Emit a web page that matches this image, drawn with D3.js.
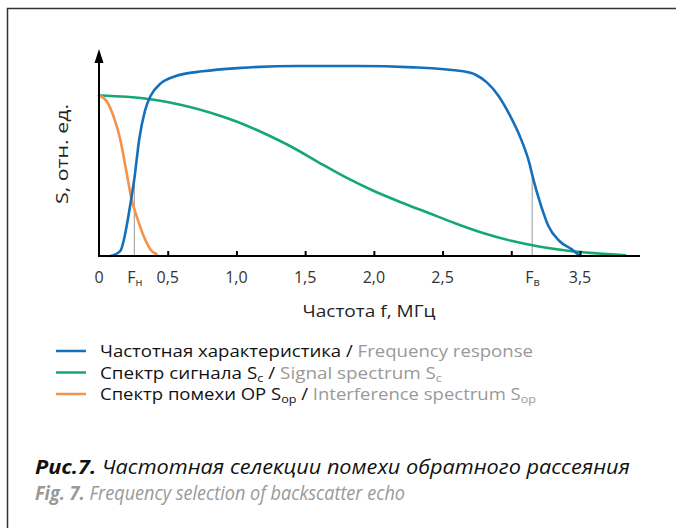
<!DOCTYPE html>
<html><head><meta charset="utf-8">
<script src="https://cdn.jsdelivr.net/npm/d3@7"></script>
<style>
body{margin:0;background:#fff;}
svg{display:block;}
</style></head>
<body>
<svg id="c" width="676" height="528"></svg>
<script>
// ---- data ----
const responseF = [0.084,0.154,0.23,0.257,0.293,0.335,0.377,0.447,0.559,0.754,1.034,1.45,1.87,2.29,2.65,2.74,2.82,2.905,2.99,3.06,3.13,3.16,3.21,3.27,3.35,3.44,3.5];
const responseS = [0.0,0.026,0.28,0.405,0.616,0.766,0.845,0.907,0.947,0.972,0.99,1.0,1.0,0.993,0.972,0.954,0.915,0.845,0.74,0.634,0.493,0.405,0.28,0.158,0.079,0.035,0.0];
const signalF = [0,0.2,0.4,0.6,0.8,1.0,1.2,1.4,1.6,1.8,2.0,2.2,2.4,2.6,2.8,3.0,3.2,3.4,3.6,3.83];
const signalS = [0.845,0.838,0.822,0.795,0.757,0.708,0.646,0.575,0.492,0.412,0.342,0.282,0.226,0.170,0.120,0.080,0.050,0.029,0.015,0.004];
const interfF = [0,0.056,0.112,0.154,0.196,0.237,0.285,0.335,0.377,0.419];
const interfS = [0.845,0.815,0.722,0.616,0.458,0.3,0.185,0.088,0.032,0.009];
const tickValues = [0.5,1.0,1.5,2.0,2.5,3.0,3.5];
const tickLabels = [
  {v:0, t:"0"},{v:0.5,t:"0,5"},{v:1.0,t:"1,0"},{v:1.5,t:"1,5"},{v:2.0,t:"2,0"},{v:2.5,t:"2,5"},{v:3.5,t:"3,5"}
];
const markers = [{v:0.257, h:0.39, t:"F", sub:"н"},{v:3.152, h:0.41, t:"F", sub:"в"}];
const xTitle = "Частота f, МГц";
const yTitle = "S, отн. ед.";

const colBlue = "#1470bb", colGreen = "#14a874", colOrange = "#f4924a";

const svg = d3.select("#c");
const font = "'Open Sans', 'Noto Sans', sans-serif";

// frame
svg.append("path").attr("d","M7.5,528 L7.5,8.5 L676,8.5").attr("fill","none").attr("stroke","#333").attr("stroke-width",1.5);

const x = d3.scaleLinear().domain([0,3.5]).range([99,580]);
const y = d3.scaleLinear().domain([0,1]).range([256,66]);

// marker lines
svg.selectAll("line.mk").data(markers).join("line")
  .attr("x1",d=>x(d.v)).attr("x2",d=>x(d.v))
  .attr("y1",y(0)).attr("y2",d=>y(d.h))
  .attr("stroke","#999").attr("stroke-width",1);

const line = d3.line().x(d=>x(d[0])).y(d=>y(d[1])).curve(d3.curveMonotoneX);
const series = [
  {f:signalF, s:signalS, c:colGreen},
  {f:interfF, s:interfS, c:colOrange},
  {f:responseF, s:responseS, c:colBlue}
];
series.forEach(se=>{
  svg.append("path").datum(d3.zip(se.f, se.s)).attr("d",line)
    .attr("fill","none").attr("stroke",se.c).attr("stroke-width",2.6).attr("stroke-linecap","round");
});

// x axis
const axis = d3.axisBottom(x).tickValues(tickValues).tickSizeInner(-5).tickSizeOuter(0).tickFormat("");
const ag = svg.append("g").attr("transform",`translate(0,${y(0)})`).call(axis);
ag.select(".domain").remove();
ag.selectAll(".tick line").attr("stroke","#000").attr("stroke-width",2);
svg.append("line").attr("x1",98).attr("x2",640).attr("y1",y(0)).attr("y2",y(0)).attr("stroke","#000").attr("stroke-width",2);
// y axis
svg.append("line").attr("x1",99).attr("x2",99).attr("y1",y(0)+1).attr("y2",60).attr("stroke","#000").attr("stroke-width",2);
svg.append("path").attr("d","M99,49 L103.5,63 L94.5,63 Z").attr("fill","#000");

// tick labels
svg.selectAll("text.tl").data(tickLabels).join("text")
  .attr("x",d=>x(d.v)).attr("y",283).attr("text-anchor","middle")
  .attr("font-family",font).attr("font-size",16).attr("fill","#333").text(d=>d.t);
markers.forEach(m=>{
  const t = svg.append("text").attr("x",x(m.v)-7).attr("y",283)
    .attr("font-family",font).attr("font-size",16).attr("fill","#333");
  t.append("tspan").text(m.t);
  t.append("tspan").attr("font-size",11).attr("dy",3).text(m.sub);
});

// titles
svg.append("text").attr("x",369).attr("y",317).attr("text-anchor","middle")
  .attr("font-family",font).attr("font-size",17).attr("fill","#222")
  .attr("textLength",133).attr("lengthAdjust","spacingAndGlyphs").text(xTitle);
svg.append("text").attr("transform","translate(68,154) rotate(-90)").attr("text-anchor","middle")
  .attr("font-family",font).attr("font-size",17).attr("fill","#222")
  .attr("textLength",100).attr("lengthAdjust","spacingAndGlyphs").text(yTitle);

// legend
const legend = [
  {c:colBlue, parts:[["Частотная характеристика / ","#111"],["Frequency response","#999"]], w:433},
  {c:colGreen, parts:[["Спектр сигнала S","#111"],["c","#111",1],["  / ","#111"],["Signal spectrum S","#999"],["c","#999",1]], w:342},
  {c:colOrange, parts:[["Спектр помехи ОР S","#111"],["op","#111",1],[" / ","#111"],["Interference spectrum S","#999"],["op","#999",1]], w:436}
];
legend.forEach((l,i)=>{
  const yy = 351 + i*21.5;
  svg.append("line").attr("x1",56).attr("x2",86).attr("y1",yy).attr("y2",yy).attr("stroke",l.c).attr("stroke-width",2.5);
  const t = svg.append("text").attr("x",100).attr("y",yy+6).attr("font-family",font).attr("font-size",15.5)
    .attr("textLength",l.w).attr("lengthAdjust","spacingAndGlyphs");
  let sub=false;
  l.parts.forEach(p=>{
    const ts = t.append("tspan").attr("fill",p[1]).text(p[0]);
    if(p[2]){ ts.attr("font-size",10.5).attr("dy",3); sub=true; }
    else if(sub){ ts.attr("dy",-3); sub=false; }
  });
});

// caption
const cf = "'Open Sans','Noto Sans',sans-serif";
const c1 = svg.append("text").attr("x",35).attr("y",473.5).attr("font-family",cf).attr("font-size",19.5).attr("font-style","italic").attr("fill","#111")
  .attr("textLength",595).attr("lengthAdjust","spacingAndGlyphs");
c1.append("tspan").attr("font-weight","bold").text("Рис.7.");
c1.append("tspan").text(" Частотная селекции помехи обратного рассеяния");
const c2 = svg.append("text").attr("x",35).attr("y",500).attr("font-family",cf).attr("font-size",19.5).attr("font-style","italic").attr("fill","#999")
  .attr("textLength",370).attr("lengthAdjust","spacingAndGlyphs");
c2.append("tspan").attr("font-weight","bold").text("Fig. 7.");
c2.append("tspan").text(" Frequency selection of backscatter echo");
</script>
</body></html>
